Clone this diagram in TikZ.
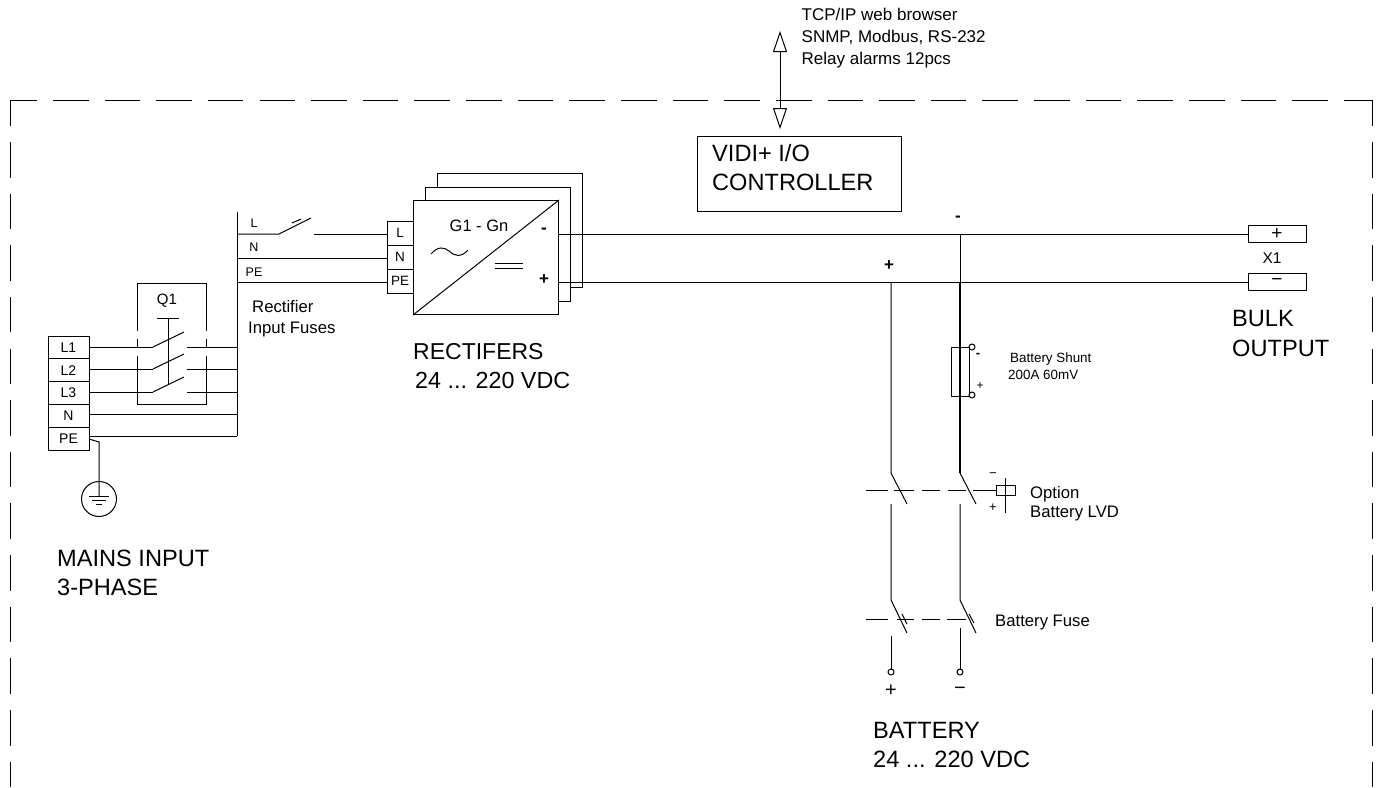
\documentclass[tikz,border=0pt]{standalone}
\usepackage{fontspec}
\setmainfont{Liberation Sans}
\usetikzlibrary{arrows.meta}
\newcommand{\fsz}[1]{\fontsize{#1}{#1}\selectfont}
\tikzset{
  wire/.style={line width=1pt,black},
  heavy/.style={line width=1.3pt,black},
  boundary/.style={line width=1pt,black,dash pattern=on 35.6pt off 16.04pt},
  term/.style={draw,line width=1pt,minimum width=41pt,minimum height=22.8pt,inner sep=0pt,font=\fsz{14}},
  rterm/.style={draw,line width=1pt,minimum width=26pt,minimum height=24pt,inner sep=0pt,font=\fsz{13.5}},
  xterm/.style={draw,line width=1pt,minimum width=58pt,minimum height=17pt,inner sep=0pt,font=\fsz{19}},
  txt/.style={anchor=base west,inner sep=0pt,align=left},
  big/.style={txt,font=\fsz{23.6}},
  mid/.style={txt,font=\fsz{16.7}},
  ctxt/.style={inner sep=0pt},
  port/.style={circle,draw,line width=1pt,fill=white,minimum size=6pt,inner sep=0pt},
  plainbox/.style={draw,line width=1pt,inner sep=0pt},
}
\begin{document}
\begin{tikzpicture}[x=1pt,y=-1pt]
\useasboundingbox (0,0) rectangle (1381,787);
% ---- boundary
\coordinate (bTL) at (10,100); \coordinate (bTR) at (1372,100);
\coordinate (bBL) at (10,787); \coordinate (bBR) at (1372,787);
\draw[boundary,dash phase=8.7pt] (bTL) -- (bTR);
\draw[boundary,dash phase=9.7pt] (bTL) -- (bBL);
\draw[boundary,dash phase=9.7pt] (bTR) -- (bBR);
% ---- controller
\node[plainbox,anchor=north west,minimum width=204pt,minimum height=75pt] (ctrl) at (697,136) {};
\node[big] (ctrlA) at (712,161) {VIDI+ I/O};
\node[big] (ctrlB) at (712,190) {CONTROLLER};
\coordinate (comTop) at (780,31);
\coordinate (comBot) at (780,129);
\draw[wire,{Triangle[open,length=21pt,width=14pt,fill=white]}-{Triangle[open,length=21pt,width=14pt,fill=white]}] (comTop) -- (comBot);
\node[txt,font=\fsz{17}] (com1) at (801.5,20) {TCP/IP web browser};
\node[txt,font=\fsz{17}] (com2) at (801.5,42) {SNMP, Modbus, RS-232};
\node[txt,font=\fsz{17}] (com3) at (801.5,64) {Relay alarms 12pcs};
% ---- mains terminals
\node[term] (tL1) at (68.5,347.4) {L1};
\node[term] (tL2) at (68.5,370.2) {L2};
\node[term] (tL3) at (68.5,393) {L3};
\node[term] (tN) at (68.5,415.8) {N};
\node[term] (tPE) at (68.5,438.6) {PE};
% ---- input bus
\coordinate (busTop) at (237,212);
\coordinate (busBot) at (237,436);
\draw[wire] (busTop) -- (busBot);
% ---- Q1 switches
\foreach \n/\y in {1/347,2/369,3/392}{
  \coordinate (qa\n) at (153,\y);
  \coordinate (qb\n) at (184,\y-15);
  \coordinate (qc\n) at (187,\y);
  \coordinate (qd\n) at (237,\y);
  \draw[wire] (qa\n) -- (qb\n);
  \draw[wire] (qc\n) -- (qd\n);
}
\draw[wire] (qa1 -| tL1.east) -- (qa1);
\draw[wire] (qa2 -| tL2.east) -- (qa2);
\draw[wire] (qa3 -| tL3.east) -- (qa3);
\coordinate (nEnd) at (237,414); \coordinate (peEnd) at (237,436);
\draw[wire] (nEnd -| tN.east) -- (nEnd);
\draw[wire] (peEnd -| tPE.east) -- (peEnd);
% Q1 mechanism
\coordinate (qTop) at (168,318); \coordinate (qBot) at (168,384);
\draw[wire] (qTop) -- (qBot);
\draw[wire] (157,318) -- (179,318);
\node[ctxt,font=\fsz{15}] (q1) at (167,301) {Q1};
% Q1 enclosure
\draw[wire] (137,331) -- (137,283) -- (206,283) -- (206,331);
\draw[wire] (137,339) -- (137,348);
\draw[wire] (206,339) -- (206,348);
\draw[wire] (137,356) -- (137,404) -- (206,404) -- (206,356);
% ---- earth
\coordinate (gA) at (99,442); \coordinate (gB) at (99,496);
\draw[wire] (89,439) -- (gA) -- (gB);
\node[circle,draw,line width=1pt,minimum size=35pt,inner sep=0pt] (gnd) at (99,499) {};
\draw[wire] (89,496) -- (109,496);
\draw[wire] (92,500) -- (106,500);
\draw[wire] (96,504) -- (102,504);
\node[big] (mains1) at (57,566) {MAINS INPUT};
\node[big] (mains2) at (57,595) {3-PHASE};
% ---- rectifier input
\node[rterm] (rL) at (400,233) {L};
\node[rterm] (rN) at (400,257) {N};
\node[rterm] (rPE) at (400,281) {PE};
\coordinate (wL) at (314,234); \coordinate (wN) at (237,258); \coordinate (wPE) at (237,282);
\draw[wire] (237,234) -- (279,234) -- (311,218);
\draw[wire] (292,223) -- (301,219);
\draw[wire] (wL) -- (wL -| rL.west);
\draw[wire] (wN) -- (wN -| rN.west);
\draw[wire] (wPE) -- (wPE -| rPE.west);
\node[ctxt,font=\fsz{12.5}] (lblL) at (254,223) {L};
\node[ctxt,font=\fsz{12.5}] (lblN) at (254,247) {N};
\node[ctxt,font=\fsz{12.5}] (lblPE) at (254,272) {PE};
\node[mid] (fuse1) at (252,312) {Rectifier};
\node[mid] (fuse2) at (248,333) {Input Fuses};
% ---- rectifier stack
\node[plainbox,anchor=north west,minimum width=145pt,minimum height=114pt] (r3) at (437,173) {};
\node[plainbox,anchor=north west,fill=white,minimum width=145pt,minimum height=114pt] (r2) at (425,187) {};
\node[plainbox,anchor=north west,fill=white,minimum width=145pt,minimum height=114pt] (r1) at (413,200) {};
\draw[wire] (r1.south west) -- (r1.north east);
\node[ctxt,font=\fsz{16.5}] (gn) at (479,226) {G1 - Gn};
\draw[wire] (431,254) .. controls (438,246) and (444,247) .. (449,251) .. controls (454,256) and (461,258) .. (468,250);
\draw[wire] (495,263) -- (523,263);
\draw[wire] (495,268) -- (523,268);
\node[ctxt,font=\bfseries\fsz{17}] (rm) at (544,231) {-};
\node[ctxt,font=\bfseries\fsz{17}] (rp) at (544,280) {+};
\node[txt,font=\fsz{23}] (rect1) at (413,359) {RECTIFERS};
\node[txt,font=\fsz{23.3}] (rect2) at (415,388) {24 ... 220 VDC};
% ---- DC bus and output
\node[xterm] (xp) at (1277,234) {+};
\node[xterm] (xm) at (1277,282) {−};
\coordinate (rOutM) at (558,234); \coordinate (rOutP) at (558,282);
\draw[wire] (rOutM) -- (xp.west);
\draw[wire] (rOutP) -- (xm.west);
\node[ctxt,font=\fsz{15.5}] (x1) at (1272,258) {X1};
\node[big] (bulk1) at (1232,326) {BULK};
\node[big] (bulk2) at (1232,356) {OUTPUT};
\node[ctxt,font=\bfseries\fsz{17}] (bm) at (958,219) {-};
\node[ctxt,font=\bfseries\fsz{17}] (bp) at (889,266) {+};
% ---- battery branches
\coordinate (pTop) at (891,282); \coordinate (pLvdA) at (891,473);
\coordinate (mTop) at (960,234); \coordinate (mMid) at (960,282); \coordinate (mLvdA) at (960,473);
\draw[wire] (pTop) -- (pLvdA) -- (907,504);
\draw[wire] (mTop) -- (mMid);
\draw[heavy] (mMid) -- (mLvdA);
\draw[wire] (mLvdA) -- (976,504);
\coordinate (pLvdB) at (891,504); \coordinate (pFuseA) at (891,600);
\coordinate (mLvdB) at (960,504); \coordinate (mFuseA) at (960,600);
\draw[wire] (pLvdB) -- (pFuseA) -- (907,633);
\draw[wire] (mLvdB) -- (mFuseA) -- (976,633);
\draw[wire] (902,614) -- (907,624);
\draw[wire] (969,614) -- (974,623);
\node[port] (pOut) at (891,672) {};
\node[port] (mOut) at (960,672) {};
\draw[wire] (891,636) -- (pOut);
\draw[wire] (960,628) -- (mOut);
\node[ctxt,font=\fsz{20}] (pSign) at (891,691) {+};
\node[ctxt,font=\fsz{20}] (mSign) at (960,691) {−};
\node[big] (bat1) at (873,738) {BATTERY};
\node[big] (bat2) at (873,767) {24 ... 220 VDC};
% ---- LVD and fuse linkages
\foreach \a/\b in {866/888,894/914,922/940,948/966,973/996}{\draw[wire] (\a,490) -- (\b,490);}
\foreach \a/\b in {866/888,897/914,922/940,947/966}{\draw[wire] (\a,619) -- (\b,619);}
\draw[wire] (1005,478) -- (1005,513);
\node[plainbox,fill=none,minimum width=19pt,minimum height=10pt] (relay) at (1005.5,490) {};
\node[ctxt,font=\fsz{13}] (relM) at (993,475) {−};
\node[ctxt,font=\fsz{13}] (relP) at (993,508) {+};
\node[mid] (opt1) at (1030,498) {Option};
\node[mid] (opt2) at (1030,517) {Battery LVD};
\node[mid] (bfuse) at (995,626) {Battery Fuse};
% ---- shunt
\draw[wire] (969,347) -- (951,347) -- (951,396) -- (969,396) -- cycle;
\node[port] (sM) at (972,347) {};
\node[port] (sP) at (972,395) {};
\node[ctxt,font=\bfseries\fsz{13}] (sMl) at (978,355) {-};
\node[ctxt,font=\fsz{12}] (sPl) at (980,386) {+};
\node[txt,font=\fsz{13.4}] (sh1) at (1010,362) {Battery Shunt};
\node[txt,font=\fsz{13.4}] (sh2) at (1008,379) {200A 60mV};
\end{tikzpicture}
\end{document}
